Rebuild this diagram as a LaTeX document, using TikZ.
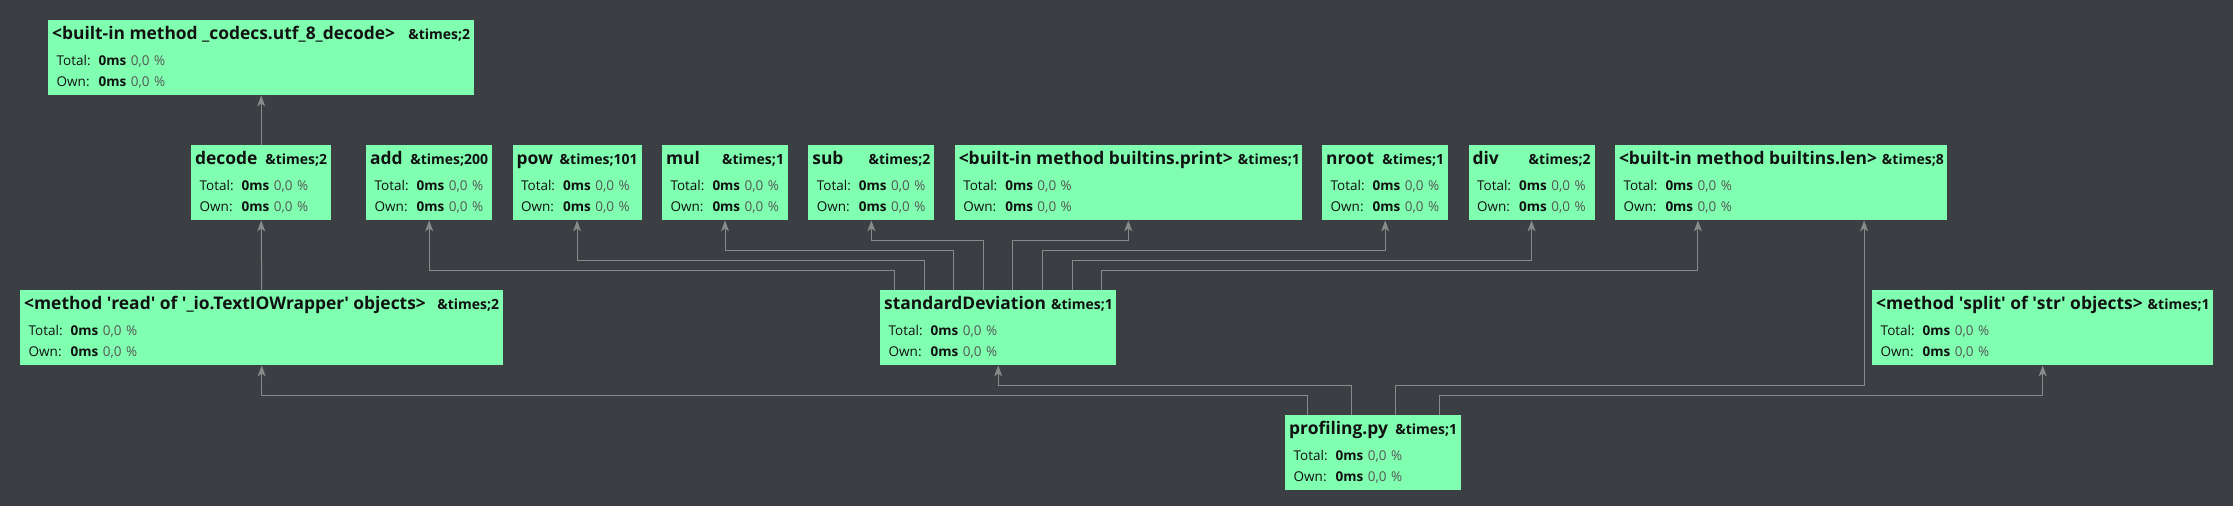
\documentclass[tikz,border=0pt]{standalone}
\usepackage{fontspec}
\setmainfont{Open Sans}
\usepackage{xcolor}
\usepackage{tikz}
\usetikzlibrary{arrows.meta, positioning, calc}
\definecolor{canvas}{RGB}{59,62,66}
\definecolor{callgreen}{RGB}{128,255,176}
\definecolor{wire}{RGB}{138,138,138}
\definecolor{pct}{RGB}{85,85,85}
\definecolor{ink}{RGB}{18,18,18}

% title line, then the two timing lines
\newcommand{\callrec}[2]{%
  \makebox[\linewidth][l]{\rule{0pt}{19pt}{\fontsize{17.4}{17.4}\selectfont\bfseries #1}\hskip 5pt plus 1fill
    {\fontsize{14}{14}\selectfont\bfseries #2}}\\[5pt]
  \hspace*{4.5pt}\makebox[42pt][l]{Total:}\textbf{0ms} \textcolor{pct}{0,0 \%}\\
  \hspace*{4.5pt}\makebox[42pt][l]{Own:}\textbf{0ms} \textcolor{pct}{0,0 \%}\rule[-9pt]{0pt}{9pt}}

\begin{document}
\begin{tikzpicture}[
   x=1pt, y=-1pt,
   callbox/.style={fill=callgreen, text=ink, anchor=north west, inner xsep=4pt,
                   inner ysep=0pt, text width=#1, font=\fontsize{13.5}{21}\selectfont},
   call/.style={draw=wire, line width=1pt,
                -{Stealth[length=11pt, width=8pt, inset=3pt]}}]

  \fill[canvas] (0,0) rectangle (2233,506);

  \node[callbox=418pt] (utfdecode) at (48,20)
       {\callrec{<built-in method \_codecs.utf\_8\_decode>}{\&times;2}};

  \node[callbox=132pt] (decode) at (191,145) {\callrec{decode}{\&times;2}};
  \node[callbox=118pt] (add) at (366,145) {\callrec{add}{\&times;200}};
  \node[callbox=121pt, right=20pt of add] (pow) {\callrec{pow}{\&times;101}};
  \node[callbox=118pt, right=20pt of pow] (mul) {\callrec{mul}{\&times;1}};
  \node[callbox=118pt, right=20pt of mul] (sub) {\callrec{sub}{\&times;2}};
  \node[callbox=339pt, right=20pt of sub] (print)
       {\callrec{<built-in method builtins.print>}{\&times;1}};
  \node[callbox=118pt, right=20pt of print] (nroot) {\callrec{nroot}{\&times;1}};
  \node[callbox=118pt, right=20pt of nroot] (div) {\callrec{div}{\&times;2}};
  \node[callbox=324pt, right=20pt of div] (len)
       {\callrec{<built-in method builtins.len>}{\&times;8}};

  \node[callbox=475pt] (read) at (20,290)
       {\callrec{<method \textquotesingle read\textquotesingle\ of \textquotesingle\_io.TextIOWrapper\textquotesingle\ objects>}{\&times;2}};
  \node[callbox=228pt] (stddev) at (880,290) {\callrec{standardDeviation}{\&times;1}};
  \node[callbox=333pt] (split) at (1872,290)
       {\callrec{<method \textquotesingle split\textquotesingle\ of \textquotesingle str\textquotesingle\ objects>}{\&times;1}};

  \node[callbox=168pt] (prof) at (1285,415) {\callrec{profiling.py}{\&times;1}};

  \coordinate (lenL) at ($(len.south west)!0.25!(len.south east)$);
  \coordinate (lenR) at ($(len.south west)!0.75!(len.south east)$);

  \draw[call] (decode.north) -- (utfdecode.south);
  \draw[call] (read.north) -- (decode.south);

  % standardDeviation fans out to its callees
  \foreach \pos/\lift/\tgt in {0.0625/20/add.south, 0.1875/30/pow.south,
      0.3125/40/mul.south, 0.4375/50/sub.south, 0.5625/50/print.south,
      0.6875/40/nroot.south, 0.8125/30/div.south, 0.9375/20/lenL}
    \draw[call] ($(stddev.north west)!\pos!(stddev.north east)$) -- ++(0,-\lift) -| (\tgt);

  % profiling.py
  \foreach \pos/\lift/\tgt in {0.125/20/read.south, 0.375/30/stddev.south,
      0.625/30/lenR, 0.875/20/split.south}
    \draw[call] ($(prof.north west)!\pos!(prof.north east)$) -- ++(0,-\lift) -| (\tgt);
\end{tikzpicture}
\end{document}
